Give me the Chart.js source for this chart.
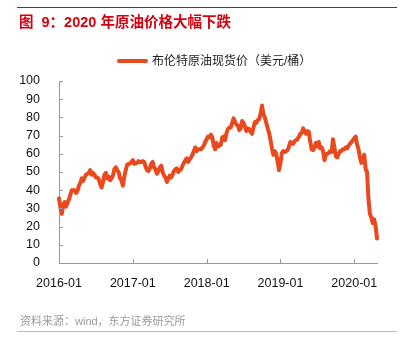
<!DOCTYPE html>
<html lang="zh-CN">
<head>
<meta charset="UTF-8">
<title>2020 年原油价格大幅下跌</title>
<script src="https://cdn.jsdelivr.net/npm/chart.js"></script>
<style>
    body { margin: 0; background: #fff; }
    .wrap { position: relative; width: 411px; height: 345px; overflow: hidden;
            font-family: "Liberation Sans", Arial, "Noto Sans CJK SC", sans-serif; }
    .wrap canvas { position: absolute; left: 0; top: 0; }
    .rule-top { position: absolute; left: 17px; top: 7px; width: 380px; height: 1px; background: #d7000f; }
    .rule-bottom { position: absolute; left: 17px; top: 331px; width: 380px; height: 1px; background: #f2a3a3; }
    .title { position: absolute; left: 19px; top: 12px; font-size: 14.5px; font-weight: bold; color: #d7000f;
             white-space: nowrap; line-height: 20px; }
    .legend { position: absolute; left: 117px; top: 53px; font-size: 12px; color: #222; white-space: nowrap;
              line-height: 16px; }
    .legend .mark { display: inline-block; width: 31px; height: 4px; background: #e9491d; vertical-align: middle;
                    margin-right: 4px; border-radius: 2px; position: relative; top: -1px; }
    .source { position: absolute; left: 20px; top: 313px; font-size: 11px; color: #9a9a9a; white-space: nowrap;
              line-height: 16px; }
</style>
</head>
<body>
<div class="wrap">
    <canvas id="chartBrent" width="411" height="345"></canvas>
    <div class="rule-top"></div>
    <div class="title">图&nbsp; 9：2020 年原油价格大幅下跌</div>
    <div class="legend"><span class="mark"></span>布伦特原油现货价（美元/桶）</div>
    <div class="source">资料来源：wind，东方证券研究所</div>
    <div class="rule-bottom"></div>
</div>

<script>
    // Brent spot, weekly readings (USD/bbl), first week starts 2016-01-04
    var brent2016 = [35.5, 30.5, 27.0, 32.0,
        33.5, 31.0, 33.0, 35.0, 37.5,
        40.0, 40.0, 40.0, 38.5,
        39.5, 42.5, 44.0, 46.5,
        45.0, 47.0, 48.5, 49.0, 49.5,
        51.0, 48.5, 49.5, 48.5,
        47.0, 47.0, 46.0, 43.5,
        41.5, 44.5, 48.5, 49.5, 46.5,
        47.5, 45.5, 46.5, 48.0,
        51.5, 52.5, 51.0, 50.0, 46.5,
        45.5, 42.5, 47.5, 51.0,
        54.0, 54.5, 54.5, 55.5]
    var brent2017 = [56.5, 54.5, 55.0, 55.0, 56.0,
        55.5, 55.5, 56.0, 55.5,
        53.0, 51.0, 50.5, 52.0,
        54.5, 55.5, 52.5, 51.5,
        49.0, 50.5, 52.5, 53.5, 50.0,
        48.0, 47.0, 44.5, 46.5,
        48.0, 47.0, 48.5, 50.5, 51.5,
        52.0, 50.0, 51.0, 51.5,
        53.5, 55.0, 56.5, 57.5,
        55.5, 57.0, 58.0, 59.5, 61.5,
        63.5, 61.5, 62.5, 62.5,
        62.5, 63.5, 64.5, 66.5]
    var brent2018 = [68.0, 69.5, 69.0, 70.5, 69.0,
        64.5, 62.5, 66.0, 64.0,
        64.5, 65.0, 69.0, 69.5,
        67.5, 71.5, 73.5, 74.5, 74.5,
        77.0, 79.5, 77.5, 76.0,
        75.5, 73.0, 74.0, 78.0,
        77.0, 75.0, 72.5, 74.0, 73.5,
        72.0, 71.0, 74.5, 77.5,
        77.0, 78.5, 79.0, 82.0,
        86.5, 81.5, 80.0, 77.0, 74.0,
        71.5, 67.5, 63.0, 59.5,
        61.5, 60.0, 55.5, 51.0]
    var brent2019 = [55.0, 60.5, 61.5, 61.0, 61.5,
        62.0, 64.0, 66.5, 65.5,
        65.5, 67.0, 67.5, 68.0,
        69.5, 71.0, 71.5, 74.0, 72.5,
        71.0, 72.5, 72.0, 66.5,
        62.5, 62.0, 63.5, 66.0,
        64.0, 66.5, 63.0, 63.5, 61.5,
        56.5, 59.5, 60.0, 60.5,
        61.5, 61.0, 68.0, 63.5, 58.5,
        58.0, 60.0, 61.5, 61.5,
        62.5, 62.5, 63.5, 63.0,
        64.5, 65.5, 66.5, 67.5]
    var brent2020 = [68.5, 69.5, 65.0, 62.5, 58.0,
        55.0, 57.0, 59.5, 51.5,
        50.0, 35.0, 27.0, 25.0, 22.0,
        24.0, 20.5, 13.5]

    var tickLabels = ['2016-01', '2017-01', '2018-01', '2019-01', '2020-01']
    var yTicks = [0, 10, 20, 30, 40, 50, 60, 70, 80, 90, 100]

    var brent = brent2016.concat(brent2017, brent2018, brent2019, brent2020)

    // one label per week
    var labels = []
    var d0 = Date.UTC(2016, 0, 4)
    for (var i = 0; i < brent.length; i++) {
        labels.push(new Date(d0 + i * 7 * 86400000).toISOString().slice(0, 10))
    }

    // week closest to the 1st of January of each tick year
    var tickIdx = tickLabels.map(function (t) {
        var target = Date.UTC(parseInt(t.slice(0, 4)), 0, 1)
        var best = 0
        for (var i = 0; i < labels.length; i++) {
            if (Math.abs(Date.parse(labels[i]) - target) < Math.abs(Date.parse(labels[best]) - target)) best = i
        }
        return best
    })

    // short tick marks pointing into the plot
    var innerTicks = {
        id: 'innerTicks',
        afterDraw: function (chart) {
            var ctx = chart.ctx
            var x = chart.scales.x, y = chart.scales.y
            ctx.save()
            ctx.strokeStyle = '#999'
            ctx.lineWidth = 1
            ctx.beginPath()
            for (var i = 0; i < x.ticks.length; i++) {
                var px = Math.round(x.getPixelForTick(i)) + 0.5
                ctx.moveTo(px, x.top)
                ctx.lineTo(px, x.top - 4)
            }
            for (var j = 0; j < y.ticks.length; j++) {
                var py = Math.round(y.getPixelForTick(j)) + 0.5
                ctx.moveTo(y.right, py)
                ctx.lineTo(y.right + 4, py)
            }
            ctx.stroke()
            ctx.restore()
        }
    }

    Chart.defaults.font.family = '"Liberation Sans", Arial, sans-serif'
    Chart.defaults.font.size = 12.5
    Chart.defaults.color = '#111'

    new Chart(document.getElementById('chartBrent'), {
        type: 'line',
        data: {
            labels: labels,
            datasets: [{
                label: '布伦特原油现货价（美元/桶）',
                data: brent,
                borderColor: '#e9491d',
                borderWidth: 4,
                pointRadius: 0,
                tension: 0,
                borderJoinStyle: 'round',
                borderCapStyle: 'round'
            }]
        },
        options: {
            responsive: false,
            animation: false,
            layout: { padding: { left: 0, right: 34, top: 81, bottom: 47 } },
            plugins: {
                legend: { display: false },
                tooltip: { enabled: false }
            },
            scales: {
                x: {
                    type: 'category',
                    offset: false,
                    grid: { display: false },
                    border: { display: true, color: '#999', width: 1 },
                    afterBuildTicks: function (scale) {
                        scale.ticks = tickIdx.map(function (v) { return { value: v } })
                    },
                    afterFit: function (scale) { scale.height = 35 },
                    ticks: {
                        autoSkip: false,
                        maxRotation: 0,
                        padding: 5,
                        callback: function (value, index) { return tickLabels[index] }
                    }
                },
                y: {
                    min: 0,
                    max: 100,
                    grid: { display: false },
                    border: { display: true, color: '#999', width: 1 },
                    afterBuildTicks: function (scale) {
                        scale.ticks = yTicks.map(function (v) { return { value: v } })
                    },
                    afterFit: function (scale) { scale.width = 59 },
                    ticks: { padding: 11 }
                }
            }
        },
        plugins: [innerTicks]
    })
</script>
</body>
</html>
